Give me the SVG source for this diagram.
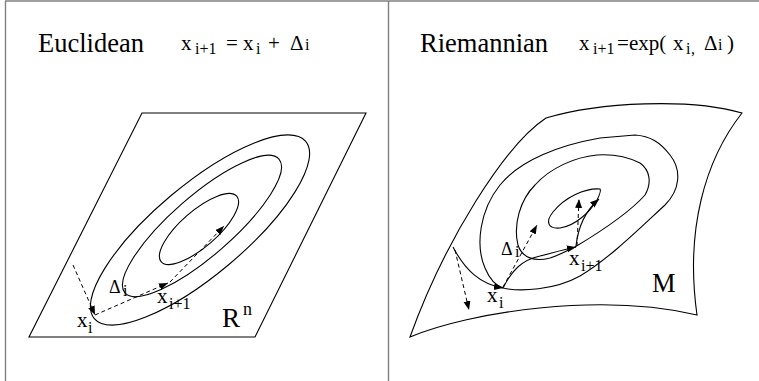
<svg xmlns="http://www.w3.org/2000/svg" width="759" height="381" viewBox="0 0 759 381">
<style>
.ln{fill:none;stroke:#000;stroke-width:1.1}
.ds{fill:none;stroke:#000;stroke-width:1;stroke-dasharray:4 3}
.fr{fill:none;stroke:#808080;stroke-width:1.4}
text{font-family:"Liberation Serif","Times New Roman",serif;fill:#000}
.m{font-size:21px}
.s{font-size:16px}
.h{font-size:26.5px}
</style>
<defs>
<marker id="ah" markerUnits="userSpaceOnUse" markerWidth="10" markerHeight="8" refX="9" refY="3.5" orient="auto">
<path d="M0,0 L9,3.5 L0,7 Z" fill="#000"/>
</marker>
</defs>
<g id="frame">
<line class="fr" x1="5" y1="1" x2="759" y2="1"/>
<line class="fr" x1="5.5" y1="1" x2="5.5" y2="381"/>
<line class="fr" x1="388.5" y1="1" x2="388.5" y2="381"/>
</g>
<g id="euclidean-title">
<text class="h" x="38" y="52">Euclidean</text>
<text class="m" x="181" y="50">x</text><text class="s" x="195" y="54">i+1</text>
<text class="m" x="226" y="50">=</text>
<text class="m" x="243" y="50">x</text><text class="s" x="256" y="54">i</text>
<text class="m" x="268" y="50">+</text>
<text class="m" x="290" y="50">Δ</text><text class="s" x="305" y="50">i</text>
</g>
<g id="riemannian-title">
<text class="h" x="420" y="52">Riemannian</text>
<text class="m" x="579" y="50">x</text><text class="s" x="593" y="54">i+1</text>
<text class="m" x="617" y="50">=</text>
<text class="m" x="629" y="50">exp(</text>
<text class="m" x="673" y="50">x</text><text class="s" x="686" y="54">i</text><text class="s" x="691" y="54">,</text>
<text class="m" x="704" y="50">Δ</text><text class="s" x="718" y="50">i</text>
<text class="m" x="727" y="50">)</text>
</g>
<g id="plane-Rn">
<path class="ln" d="M142,113 L366,113 L255,337 L29,337 Z"/>
<ellipse class="ln" cx="200" cy="230" rx="138" ry="45" transform="rotate(-40 200 230)"/>
<ellipse class="ln" cx="202" cy="226" rx="102" ry="30" transform="rotate(-41 202 226)"/>
<ellipse class="ln" cx="199" cy="229" rx="50" ry="18" transform="rotate(-41 199 229)"/>
<text class="m" x="222" y="327" style="font-size:27px">R</text><text x="243" y="315" style="font-size:18px">n</text>
</g>
<g id="manifold-M">
<path class="ln" d="M546,118 C600,102 690,98 742,113 C705,160 685,230 697,315 C600,292 470,312 410,337 C445,240 505,145 546,118 Z"/>
<path class="ln" d="M503,288 C520,292 555,290 580,276 C610,258 640,228 665,205 C680,190 682,170 670,155 C660,142 650,136 635,135 L600,138 C560,145 520,160 500,185 C480,210 475,245 485,268 C490,280 497,286 503,288 Z"/>
<path class="ln" d="M575,247 C600,232 630,212 645,195 C652,183 650,170 640,163 C628,157 612,154 597,155 C575,157 550,168 535,185 C520,200 513,225 518,245 C522,258 535,262 550,258 C560,255 568,250 575,247 Z"/>
<path class="ln" d="M600,189 C585,188 565,197 553,212 C545,222 548,229 560,228 C575,226 590,212 597,200 C600,194 601,190 600,189 Z"/>
<text class="h" x="652" y="292">M</text>
</g>
<g id="connectors">
<path class="ds" d="M73,265 L95,315" marker-end="url(#ah)"/>
<path class="ds" d="M95,315 L168,283" marker-end="url(#ah)"/>
<path class="ds" d="M170,282 L224,226" marker-end="url(#ah)"/>
<path class="ln" d="M453,247 C465,270 480,284 503,288" marker-end="url(#ah)"/>
<path class="ds" d="M455,250 L469,310" marker-end="url(#ah)"/>
<path class="ln" d="M503,288 C512,270 522,260 540,256 C552,253 562,250 576,247" marker-end="url(#ah)"/>
<path class="ds" d="M503,287 L537,225" marker-end="url(#ah)"/>
<path class="ds" d="M577,246 L579,199" marker-end="url(#ah)"/>
<path class="ln" d="M576,246 C578,228 584,212 599,199" marker-end="url(#ah)"/>
</g>
<g id="labels">
<text class="m" x="77" y="327">x</text><text class="s" x="88" y="333">i</text>
<text x="109" y="293" style="font-size:18px">Δ</text><text class="s" x="123" y="296">i</text>
<text class="m" x="157" y="303">x</text><text class="s" x="169" y="309">i+1</text>
<text x="501" y="255" style="font-size:18px">Δ</text><text class="s" x="515" y="257">i</text>
<text class="m" x="569" y="265">x</text><text class="s" x="581" y="271">i+1</text>
<text class="m" x="487" y="302">x</text><text class="s" x="499" y="308">i</text>
</g>
</svg>
